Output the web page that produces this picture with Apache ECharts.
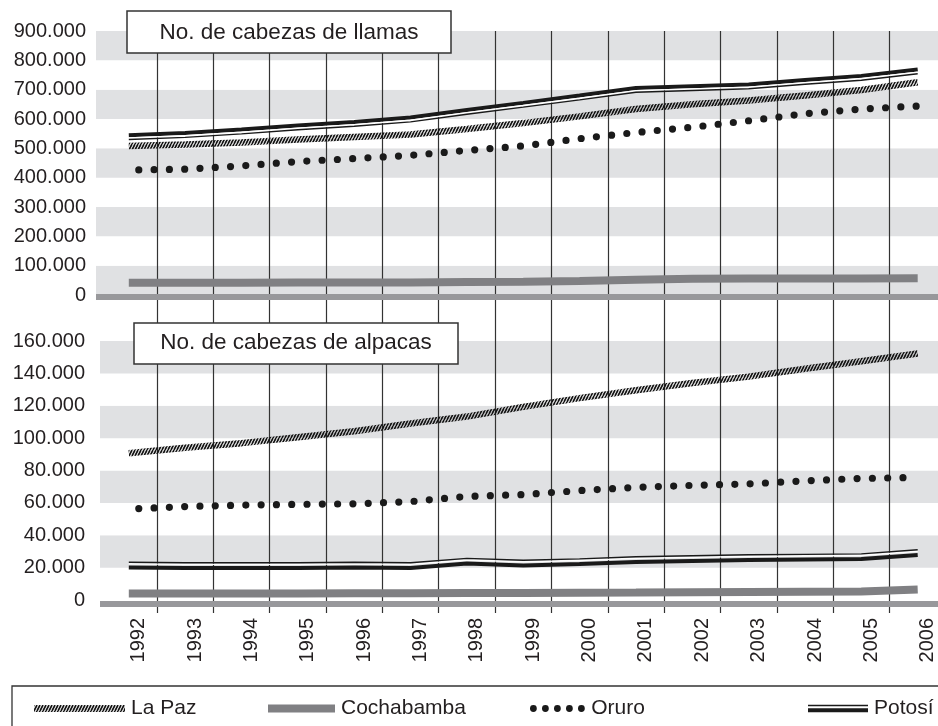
<!DOCTYPE html>
<html>
<head>
<meta charset="utf-8">
<script src="https://cdn.jsdelivr.net/npm/echarts@6/dist/echarts.min.js"></script>
<style>html,body{margin:0;padding:0;background:#fff}#chart{width:938px;height:726px}</style>
</head>
<body>
<div id="chart"></div>
<script>
// ---------------- data ----------------
const years = ['1992','1993','1994','1995','1996','1997','1998','1999','2000','2001','2002','2003','2004','2005','2006'];
const llamaTickLabels = ['0','100.000','200.000','300.000','400.000','500.000','600.000','700.000','800.000','900.000'];
const alpacaTickLabels = ['0','20.000','40.000','60.000','80.000','100.000','120.000','140.000','160.000'];
const seriesNames = ['La Paz','Cochabamba','Oruro','Potosí'];
const titleLlamas = 'No. de cabezas de llamas';
const titleAlpacas = 'No. de cabezas de alpacas';

// llamas
const llamaLaPaz      = [508000,513000,520000,530000,539000,547000,566000,586000,609000,634000,650000,663000,680000,699000,725000];
const llamaCochabamba = [42000,42000,42000,43000,43000,43000,44000,45000,48000,52000,55000,56000,56000,56000,57000];
const llamaOruro      = [426000,429000,440000,455000,465000,476000,493000,508000,533000,554000,572000,594000,618000,634000,644000];
const llamaPotosi     = [545000,552000,564000,578000,590000,605000,631000,655000,680000,706000,712000,718000,733000,747000,769000];

// alpacas
const alpacaLaPaz      = [90700,94100,96900,100600,104300,109000,113300,119300,124700,129600,134000,138000,142900,147500,152300];
const alpacaCochabamba = [4000,4000,4000,4000,4100,4200,4300,4400,4500,4600,4800,5000,5100,5200,6500];
const alpacaOruro      = [56200,57700,58600,59100,59400,60800,64000,65100,67600,69600,70800,71700,73600,75100,75700];
const alpacaPotosi     = [20100,19800,19800,19800,20100,19800,22500,21300,22200,23500,24100,24700,25000,25300,27800];

// ---------------- layout / style ----------------
const FONT = '"Liberation Sans", Arial, Helvetica, sans-serif';
const INK = '#231f20';
const BAND = '#e0e1e3';
const STEP = 56.35, FIRST_X = 128.8;         // category spacing and first category centre (px)
const TOP = {left: 96, top: 31, width: 842, height: 264, max: 900000, interval: 100000, thinShiftPx: 4.3};
const BOT = {left: 100, top: 341, width: 838, height: 259, max: 160000, interval: 20000, thinShiftPx: -5.2};
const y0 = Number(years[0]);
function xr(g){ return {min: y0 - (FIRST_X - g.left)/STEP, max: y0 + (g.left + g.width - FIRST_X)/STEP}; }
function shiftVal(g){ return g.thinShiftPx * g.max / g.height; }

function hatchCanvas(){
  const c = document.createElement('canvas'); c.width = 3; c.height = 6;
  const g = c.getContext('2d'); g.strokeStyle = '#141414'; g.lineWidth = 1.7;
  g.beginPath();
  g.moveTo(0,6); g.lineTo(3,0);
  g.moveTo(-3,6); g.lineTo(0,0);
  g.moveTo(3,6); g.lineTo(6,0);
  g.stroke();
  return c;
}
const hatch = {image: hatchCanvas(), repeat: 'repeat'};

const pts = arr => years.map((y, i) => [Number(y), arr[i]]);

function chartSeries(xIdx, yIdx, yShiftIdx, g, laPaz, cocha, oruro, potosi){
  return [
    {name: seriesNames[1], type:'line', xAxisIndex:xIdx, yAxisIndex:yIdx, data: pts(cocha), showSymbol:false, symbol:'none',
     lineStyle:{color:'#808083', width:8, cap:'butt'}, itemStyle:{color:'#808083'}, z:2, silent:true},
    {name: seriesNames[0], type:'line', xAxisIndex:xIdx, yAxisIndex:yIdx, data: pts(laPaz), showSymbol:false, symbol:'none',
     lineStyle:{color:hatch, width:6.5, cap:'butt'}, itemStyle:{color:'#1a1a1a'}, z:2, silent:true},
    {name: seriesNames[2], type:'line', xAxisIndex:xIdx, yAxisIndex:yIdx, data: pts(oruro), showSymbol:false, symbol:'none',
     lineStyle:{color:'#1a1a1a', width:7.2, type:[0,15.3], dashOffset:5.3, cap:'round'}, itemStyle:{color:'#1a1a1a'}, z:2, silent:true},
    {name: seriesNames[3], type:'line', xAxisIndex:xIdx, yAxisIndex:yIdx, data: pts(potosi), showSymbol:false, symbol:'none',
     lineStyle:{color:'#1a1a1a', width:4, cap:'butt'}, itemStyle:{color:'#1a1a1a'}, z:2, silent:true},
    // second (thin) stroke of Potosí's double line, same data on an offset copy of the value axis
    {name: seriesNames[3], type:'line', xAxisIndex:xIdx, yAxisIndex:yShiftIdx, data: pts(potosi), showSymbol:false, symbol:'none',
     lineStyle:{color:'#1a1a1a', width:1.4, cap:'butt', shadowColor:'#ffffff', shadowBlur:0, shadowOffsetY: g.thinShiftPx > 0 ? -1.6 : 1.6},
     itemStyle:{color:'#1a1a1a'}, z:2, silent:true}
  ];
}

function valueY(g, idx, labels, bandColors){
  return {type:'value', gridIndex: idx, min:0, max:g.max, interval:g.interval, z:0,
    axisLine:{show:false}, axisTick:{show:false}, splitLine:{show:false},
    splitArea:{show:true, areaStyle:{color: bandColors}},
    axisLabel:{formatter: v => labels[Math.round(v / g.interval)], fontSize:20, color:INK, fontFamily:FONT, margin: idx === 1 ? 10 : 15}};
}
function shiftedY(g, idx){
  const d = shiftVal(g);
  return {type:'value', gridIndex: idx, show:false, min: d, max: g.max + d, splitLine:{show:false}, splitArea:{show:false}};
}
function baseX(g, idx, off){
  const r = xr(g);
  return {type:'value', gridIndex: idx, min:r.min, max:r.max, z:3, offset: off,
    axisLine:{show:true, onZero:false, lineStyle:{color:'#98989b', width:6, cap:'butt'}},
    axisTick:{show:false}, axisLabel:{show:false}, splitLine:{show:false}};
}

// legend icons
function dotsPath(n, r, gap){
  let p = 'path://';
  for (let k = 0; k < n; k++){ const cx = r + k*gap; p += `M${cx-r},${r}a${r},${r} 0 1,0 ${2*r},0a${r},${r} 0 1,0 ${-2*r},0Z`; }
  return p;
}
const legendTop = 698;
function legendFor(i, left, icon, w, h, color){
  return {show:true, left:left, top:legendTop, padding:0, itemGap:0, selectedMode:false, orient:'horizontal',
    itemWidth:w, itemHeight:h, icon: icon,
    itemStyle:{borderWidth:0}, lineStyle:{width:0},
    textStyle:{fontSize:21, color:INK, fontFamily:FONT, padding:[0,0,0,1]},
    data:[{name: seriesNames[i], icon: icon, itemStyle:{color: color, borderWidth:0}}]};
}

const chart = echarts.init(document.getElementById('chart'), null, {renderer:'canvas'});
chart.setOption({
  animation:false,
  backgroundColor:'#ffffff',
  textStyle:{fontFamily:FONT},
  grid:[
    {left: FIRST_X - STEP/2, top: 31, width: STEP*years.length, height: 582, outerBoundsMode:'none'},
    {left: TOP.left, top: TOP.top, width: TOP.width, height: TOP.height, outerBoundsMode:'none'},
    {left: BOT.left, top: BOT.top, width: BOT.width, height: BOT.height, outerBoundsMode:'none'}
  ],
  xAxis:[
    {type:'category', gridIndex:0, data: years, boundaryGap:true, z:1,
     axisLine:{show:false}, axisTick:{show:false},
     splitLine:{show:true, interval:0, showMinLine:false, showMaxLine:false, lineStyle:{color:'#333333', width:1.2}},
     axisLabel:{interval:0, rotate:90, verticalAlign:'top', margin:5, fontSize:20, color:INK, fontFamily:FONT}},
    baseX(TOP, 1, 1.5),
    baseX(BOT, 2, 4)
  ],
  yAxis:[
    {type:'value', gridIndex:0, show:false, min:0, max:1, splitLine:{show:false}},
    valueY(TOP, 1, llamaTickLabels, [BAND, '#ffffff']),
    shiftedY(TOP, 1),
    valueY(BOT, 2, alpacaTickLabels, ['#ffffff', BAND]),
    shiftedY(BOT, 2)
  ],
  legend:[
    legendFor(0, 34, 'rect', 91, 7, hatch),
    legendFor(1, 268, 'rect', 67, 8, '#808083'),
    legendFor(2, 530, dotsPath(5, 3.4, 12), 55.6, 6.8, '#1a1a1a'),
    legendFor(3, 808, 'path://M0,0H60V1.5H0ZM0,3.5H60V7.5H0Z', 60, 7.5, '#1a1a1a')
  ],
  series:[
    ...chartSeries(1, 1, 2, TOP, llamaLaPaz, llamaCochabamba, llamaOruro, llamaPotosi),
    ...chartSeries(2, 3, 4, BOT, alpacaLaPaz, alpacaCochabamba, alpacaOruro, alpacaPotosi)
  ],
  graphic:[
    {type:'rect', z:100, shape:{x:127, y:11, width:324, height:42}, style:{fill:'#ffffff', stroke:'#333333', lineWidth:1.5}},
    {type:'text', z:101, x:289, y:33, style:{text:titleLlamas, fontSize:22.5, fontFamily:FONT, fill:INK, align:'center', verticalAlign:'middle'}},
    {type:'rect', z:100, shape:{x:134, y:323, width:324, height:41}, style:{fill:'#ffffff', stroke:'#333333', lineWidth:1.5}},
    {type:'text', z:101, x:296, y:343, style:{text:titleAlpacas, fontSize:22.5, fontFamily:FONT, fill:INK, align:'center', verticalAlign:'middle'}},
    {type:'rect', z:100, shape:{x:12, y:686, width:960, height:80}, style:{fill:'none', stroke:'#333333', lineWidth:1.3}}
  ]
});
</script>
</body>
</html>
